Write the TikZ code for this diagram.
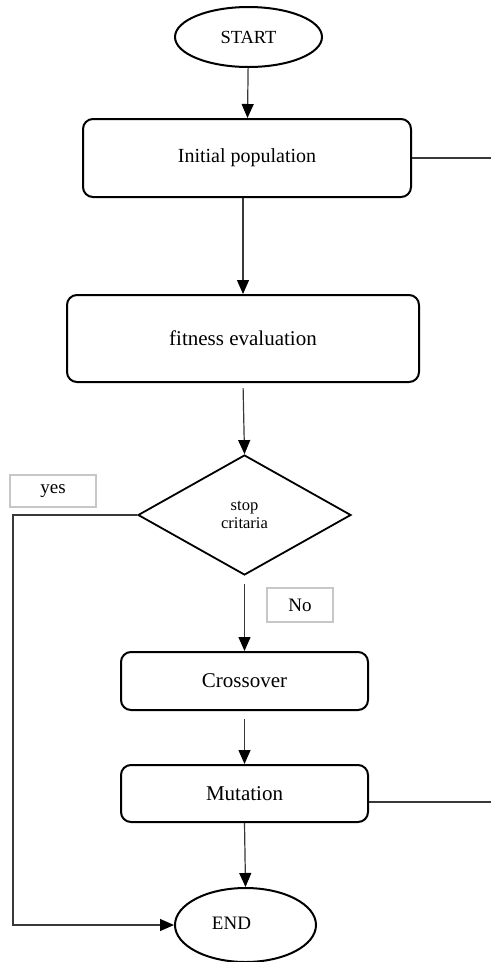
\documentclass[tikz,border=0pt]{standalone}
\usepackage{fontspec}
\setmainfont{Liberation Serif}
\usepackage{tikz}
\usetikzlibrary{arrows.meta,shapes.geometric}
\definecolor{LineColor}{gray}{0.22}
\definecolor{LblColor}{gray}{0.78}
\newcommand{\fsz}[1]{\fontsize{#1}{#1}\selectfont}
\tikzset{
    procbox/.style={draw=black,line width=2pt,rounded corners=10pt,inner sep=0pt,font=\fsz{20}},
    termnode/.style={draw=black,ellipse,line width=2pt,inner sep=0pt,font=\fsz{18.5}},
    decnode/.style={draw=black,diamond,line width=1.8pt,inner sep=0pt,align=center,font=\fsz{16.5}},
    lblbox/.style={draw=LblColor,line width=1.4pt,inner sep=0pt,font=\fsz{19}},
    conn/.style={draw=LineColor,line width=1.2pt},
    arr/.style={conn,-{Triangle[width=12pt,length=14pt,color=black]}},
}
\begin{document}
\begin{tikzpicture}[x=1pt,y=-1pt]
    \useasboundingbox (0,0) rectangle (491,962);    % Freeze the bounding box
    % --- --- --- Nodes
    \node[termnode,minimum width=147pt,minimum height=60pt] (START) at (248.5,37) {START};
    \node[procbox,minimum width=328pt,minimum height=78pt] (INIT) at (247,158) {Initial population};
    \node[procbox,minimum width=352pt,minimum height=87pt,font=\fsz{21}] (FIT) at (243,338.5) {fitness evaluation};
    \node[decnode,minimum width=213pt,minimum height=120pt] (STOP) at (244.5,515) {stop\\[1pt]critaria};
    \node[procbox,minimum width=247pt,minimum height=58pt,font=\fsz{21}] (CROSS) at (244.5,681) {Crossover};
    \node[procbox,minimum width=247pt,minimum height=57pt,font=\fsz{21}] (MUT) at (244.5,793.5) {Mutation};
    \node[termnode,minimum width=141pt,minimum height=74pt,font=\fsz{19}] (END) at (245.5,925) {\raisebox{4pt}{END\hspace{28pt}}};
    \node[lblbox,minimum width=86pt,minimum height=32pt] (YES) at (53,491) {yes};
    \node[lblbox,minimum width=66pt,minimum height=34pt] (NO) at (300,605) {No};
    % --- --- --- Free ends
    \coordinate (INIT_OUT) at (491,158);
    \coordinate (MUT_OUT) at (491,802);
    \coordinate (YES_BEND) at (13,925);
    % --- --- --- Connectors
    \draw[arr] (START) -- (INIT);
    \draw[arr] (INIT.south -| FIT.north) -- (FIT.north);
    \draw[arr,shorten <=5pt] (FIT.south) -- (STOP.north);
    \draw[arr,shorten <=8pt] (STOP.south) -- (CROSS.north);
    \draw[arr,shorten <=8pt] (CROSS.south) -- (MUT.north);
    \draw[arr] (MUT.south) -- (END.north);
    \draw[conn] (INIT.east) -- (INIT_OUT);
    \draw[conn] (MUT.east |- MUT_OUT) -- (MUT_OUT);
    \draw[arr] (STOP.west) -| (YES_BEND) -- (END.west);
\end{tikzpicture}
\end{document}
